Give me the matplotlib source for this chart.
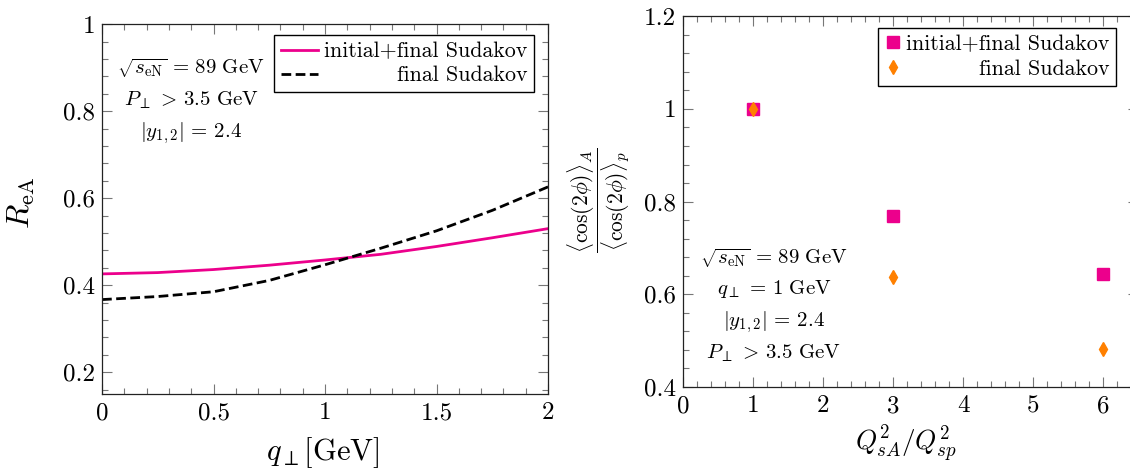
import numpy as np
import matplotlib
matplotlib.use("Agg")
import matplotlib.pyplot as plt
from matplotlib.ticker import MultipleLocator, FormatStrFormatter

plt.rcParams['font.family'] = 'serif'
plt.rcParams['font.serif'] = ['cmr10']
plt.rcParams['mathtext.fontset'] = 'cm'
plt.rcParams['axes.formatter.use_mathtext'] = True

PINK = '#EC008C'
ORANGE = '#FF8000'

# left panel: R_eA vs q_perp
q_perp = [0.0, 0.25, 0.5, 0.75, 1.0, 1.25, 1.5, 1.75, 2.0]
r_init_final = [0.426, 0.429, 0.436, 0.446, 0.458, 0.471, 0.489, 0.509, 0.530]
r_final = [0.367, 0.374, 0.385, 0.411, 0.447, 0.485, 0.525, 0.572, 0.626]

# right panel: cos(2phi) ratio vs Q_sA^2/Q_sp^2
q2_ratio = [1, 3, 6]
cos_init_final = [1.0, 0.769, 0.643]
cos_final = [1.0, 0.638, 0.481]

lbl_if = 'initial+final Sudakov'
lbl_f = 'final Sudakov'


def style_axes(ax):
    ax.tick_params(which='both', direction='in', top=True, right=True,
                   color='#777', labelsize=18, width=0.8)
    ax.tick_params(which='major', length=7)
    ax.tick_params(which='minor', length=4.5)
    ax.tick_params(axis='x', pad=6)
    ax.tick_params(axis='y', pad=5)
    ax.xaxis.set_major_formatter(FormatStrFormatter('%g'))
    ax.yaxis.set_major_formatter(FormatStrFormatter('%g'))
    for s in ax.spines.values():
        s.set_linewidth(0.9)
        s.set_color('#222')


def right_align_legend(fig, leg):
    # pgfplots-style legend: labels flush right
    fig.canvas.draw()
    r = fig.canvas.get_renderer()
    rows = []
    for col in leg._legend_handle_box.get_children():
        rows.extend(col.get_children())
    widths = [row.get_children()[1]._text.get_window_extent(r).width for row in rows]
    wmax = max(widths)
    for row, w in zip(rows, widths):
        row.sep = row.sep + (wmax - w) * 72.0 / fig.dpi


fig = plt.figure(figsize=(11.3, 4.7), dpi=100)

# ---- left panel
ax1 = fig.add_axes([0.0903, 0.1617, 0.3947, 0.787])
ax1.plot(q_perp, r_init_final, color=PINK, lw=2.0, label=lbl_if)
ax1.plot(q_perp, r_final, color='black', lw=2.0, ls=(0, (3.5, 1.6)), label=lbl_f)
ax1.set_xlim(0, 2)
ax1.set_ylim(0.15, 1.0)
ax1.xaxis.set_major_locator(MultipleLocator(0.5))
ax1.xaxis.set_minor_locator(MultipleLocator(0.1))
ax1.yaxis.set_major_locator(MultipleLocator(0.2))
ax1.yaxis.set_minor_locator(MultipleLocator(0.04))
style_axes(ax1)
ax1.set_xlabel(r'$q_{\perp}[\mathrm{GeV}]$', fontsize=22)
ax1.xaxis.set_label_coords(0.495, -0.11)
ax1.set_ylabel(r'$R_{\mathrm{eA}}$', fontsize=23)
ax1.yaxis.set_label_coords(-0.145, 0.516)

ann1 = [r'$\sqrt{s_{\mathrm{eN}}}\,=\,89\ \mathrm{GeV}$', r'$P_{\perp}\,>\,3.5\ \mathrm{GeV}$',
        r'$|y_{1,2}|\,=\,2.4$']
for txt, yy in zip(ann1, [0.881, 0.795, 0.705]):
    ax1.text(0.200, yy, txt, transform=ax1.transAxes, ha='center', va='center', fontsize=15)

leg1 = ax1.legend(loc='upper right', bbox_to_anchor=(0.969, 0.970), fontsize=15.8,
                  frameon=True, fancybox=False, edgecolor='black', framealpha=1,
                  handlelength=1.7, handletextpad=0.3, borderpad=0.3,
                  labelspacing=0.2, borderaxespad=0)
leg1.get_frame().set_linewidth(1.0)

# ---- right panel
ax2 = fig.add_axes([0.6044, 0.1766, 0.4027, 0.789])
ax2.plot(q2_ratio, cos_init_final, ls='none', marker='s', ms=8.5, color=PINK, label=lbl_if)
ax2.plot(q2_ratio, cos_final, ls='none', marker='d', ms=7, color=ORANGE, label=lbl_f)
ax2.set_xlim(0, 6.5)
ax2.set_ylim(0.4, 1.2)
ax2.xaxis.set_major_locator(MultipleLocator(1))
ax2.xaxis.set_minor_locator(MultipleLocator(0.2))
ax2.yaxis.set_major_locator(MultipleLocator(0.2))
ax2.yaxis.set_minor_locator(MultipleLocator(0.04))
style_axes(ax2)
ax2.set_xlabel(r'$Q^2_{sA}/Q^2_{sp}$', fontsize=19.5)
ax2.xaxis.set_label_coords(0.49, -0.10)
ax2.set_ylabel(r'$\dfrac{\langle\cos(2\phi)\rangle_A}{\langle\cos(2\phi)\rangle_p}$', fontsize=15.5)
ax2.yaxis.set_label_coords(-0.112, 0.504)

ann2 = [r'$\sqrt{s_{\mathrm{eN}}}\,=\,89\ \mathrm{GeV}$', r'$q_{\perp}\,=\,1\ \mathrm{GeV}$',
        r'$|y_{1,2}|\,=\,2.4$', r'$P_{\perp}\,>\,3.5\ \mathrm{GeV}$']
for txt, yy in zip(ann2, [0.348, 0.264, 0.175, 0.091]):
    ax2.text(0.200, yy, txt, transform=ax2.transAxes, ha='center', va='center', fontsize=15)

leg2 = ax2.legend(loc='upper right', bbox_to_anchor=(0.952, 0.968), fontsize=15.8,
                  frameon=True, fancybox=False, edgecolor='black', framealpha=1,
                  handlelength=0.8, handletextpad=0.2, borderpad=0.3,
                  labelspacing=0.25, borderaxespad=0, numpoints=1)
leg2.get_frame().set_linewidth(1.0)

right_align_legend(fig, leg1)
right_align_legend(fig, leg2)

fig.savefig('out.png', dpi=100)
